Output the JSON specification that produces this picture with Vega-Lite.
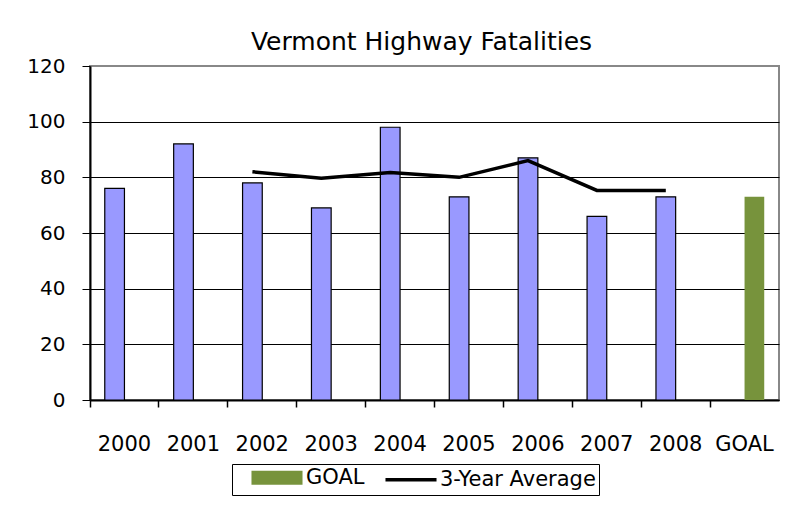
{
  "$schema": "https://vega.github.io/schema/vega-lite/v6.json",
  "width": 689,
  "height": 334,
  "autosize": "none",
  "padding": {"left": 90, "top": 66, "right": 9, "bottom": 110},
  "background": "white",
  "title": {
    "text": "Vermont Highway Fatalities",
    "fontSize": 25,
    "font": "DejaVu Sans",
    "fontWeight": "normal",
    "color": "black",
    "anchor": "middle",
    "baseline": "alphabetic",
    "offset": 19,
    "dx": -13,
    "dy": 38
  },
  "datasets": {
    "bars": [
      {"year": "2000", "series": "Fatalities", "value": 76},
      {"year": "2001", "series": "Fatalities", "value": 92},
      {"year": "2002", "series": "Fatalities", "value": 78},
      {"year": "2003", "series": "Fatalities", "value": 69},
      {"year": "2004", "series": "Fatalities", "value": 98},
      {"year": "2005", "series": "Fatalities", "value": 73},
      {"year": "2006", "series": "Fatalities", "value": 87},
      {"year": "2007", "series": "Fatalities", "value": 66},
      {"year": "2008", "series": "Fatalities", "value": 73},
      {"year": "GOAL", "series": "GOAL", "value": 73}
    ],
    "avg": [
      {"year": "2002", "avg": 82},
      {"year": "2003", "avg": 79.7},
      {"year": "2004", "avg": 81.7},
      {"year": "2005", "avg": 80},
      {"year": "2006", "avg": 86},
      {"year": "2007", "avg": 75.3},
      {"year": "2008", "avg": 75.3}
    ]
  },
  "layer": [
    {
      "data": {"name": "bars"},
      "mark": {"type": "bar"},
      "encoding": {
        "x": {
          "field": "year",
          "type": "nominal",
          "sort": null,
          "scale": {"domain": ["2000", "2001", "2002", "2003", "2004", "2005", "2006", "2007", "2008", "GOAL"], "paddingInner": 0, "paddingOuter": 0},
          "axis": {"orient": "bottom", "title": null, "ticks": false, "tickSize": 0, "domain": false, "labelAngle": 0, "labelFontSize": 21, "labelPadding": 33, "labelColor": "black", "grid": false}
        },
        "xOffset": {
          "field": "series",
          "type": "nominal",
          "scale": {"domain": ["Fatalities", "GOAL"], "paddingInner": 0, "paddingOuter": 0.75}
        },
        "y": {
          "field": "value",
          "type": "quantitative",
          "scale": {"domain": [0, 120]},
          "axis": {
            "title": null,
            "values": [0, 20, 40, 60, 80, 100, 120],
            "grid": true,
            "gridColor": {"condition": {"test": "datum.value === 120", "value": "#888888"}, "value": "black"},
            "gridWidth": 1,
            "domainColor": "black",
            "domainWidth": 2,
            "tickColor": "black",
            "tickSize": 8,
            "tickWidth": 1,
            "labelFontSize": 20,
            "labelPadding": 17,
            "labelColor": "black"
          }
        },
        "color": {
          "field": "series",
          "type": "nominal",
          "scale": {"domain": ["Fatalities", "GOAL", "3-Year Average"], "range": ["#9999FF", "#77933C", "#000000"]},
          "legend": {
            "values": ["GOAL", "3-Year Average"],
            "orient": "none",
            "legendX": 142,
            "legendY": 398,
            "direction": "horizontal",
            "title": null,
            "strokeColor": "black",
            "padding": 3,
            "labelFontSize": 21,
            "labelColor": "black",
            "symbolSize": 256,
            "symbolOffset": 31.5,
            "labelOffset": 18.5,
            "columnPadding": 4,
            "symbolType": {"expr": "datum.value === 'GOAL' ? 'M-3.19,-0.875H3.19V0.875H-3.19Z' : 'M-3.19,0H3.19'"},
            "symbolStrokeColor": {"expr": "datum.value === 'GOAL' ? 'transparent' : '#000000'"},
            "symbolStrokeWidth": 3.5,
            "symbolOpacity": 1
          }
        },
        "stroke": {"value": "black"},
        "strokeWidth": {"condition": {"test": "datum.series === 'GOAL'", "value": 0}, "value": 1.2}
      }
    },
    {
      "data": {"name": "avg"},
      "mark": {"type": "line", "strokeWidth": 3.5, "color": "black"},
      "encoding": {
        "x": {
          "field": "year",
          "type": "nominal",
          "sort": null,
          "axis": {"orient": "bottom", "title": null, "labels": false, "ticks": true, "bandPosition": 0, "tickSize": 7, "tickColor": "black", "tickWidth": 1.5, "domain": true, "domainColor": "black", "domainWidth": 2, "grid": false}
        },
        "xOffset": {"datum": "Fatalities", "type": "nominal"},
        "y": {"field": "avg", "type": "quantitative"}
      }
    }
  ],
  "resolve": {"axis": {"x": "independent"}},
  "config": {
    "font": "DejaVu Sans",
    "view": {"stroke": "#888888", "strokeWidth": 2},
    "axis": {"labelFont": "DejaVu Sans"},
    "legend": {"labelFont": "DejaVu Sans"}
  }
}
